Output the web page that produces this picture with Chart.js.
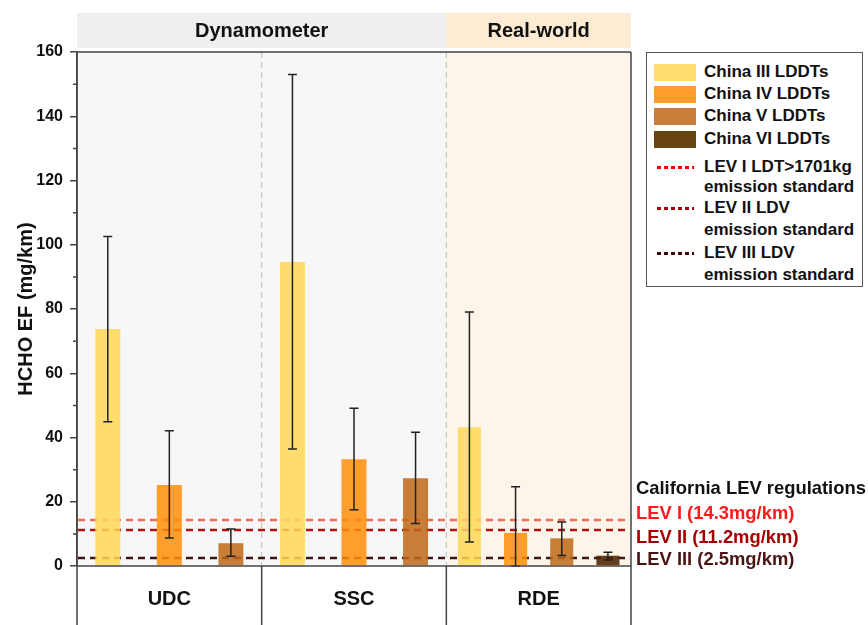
<!DOCTYPE html>
<html>
<head>
<meta charset="utf-8">
<script src="https://cdn.jsdelivr.net/npm/chart.js@4.4.1/dist/chart.umd.min.js"></script>
<style>
	body { margin: 0; background: #fff; font-family: "Liberation Sans", Arial, sans-serif; }
	#wrap { position: relative; width: 868px; height: 625px; }
	#legend { position: absolute; left: 646px; top: 52px; width: 217px; height: 235px; border: 1.5px solid #555; box-sizing: border-box; background: #fff; }
	.sw { position: absolute; left: 7px; width: 42px; height: 17px; }
	.dot { position: absolute; left: 10px; width: 37px; height: 3px; }
	.txt { position: absolute; left: 57px; height: 20px; line-height: 20px; font-size: 17px; font-weight: bold; color: #111; white-space: nowrap; }
	.note { position: absolute; left: 636px; height: 22px; line-height: 22px; font-size: 18.4px; font-weight: bold; white-space: nowrap; }
</style>
</head>
<body>
<div id="wrap">
	<canvas id="chart" width="868" height="625"></canvas>
	<div id="legend"></div>
	<div id="notes"></div>
</div>
<script>
// ---- data ----
const categories = ["UDC", "SSC", "RDE"];
const phases = ["Dynamometer", "Real-world"];
const phaseSpan = [2, 1]; // how many categories sit under each phase header

const seriesNames = ["China III LDDTs", "China IV LDDTs", "China V LDDTs", "China VI LDDTs"];
const chinaIII = [73.8, 94.6, 43.2];
const chinaIIILow = [44.9, 36.4, 7.5];
const chinaIIIHigh = [102.6, 153.0, 79.1];
const chinaIV = [25.2, 33.2, 10.3];
const chinaIVLow = [8.7, 17.5, 0];
const chinaIVHigh = [42.1, 49.1, 24.7];
const chinaV = [7.1, 27.3, 8.6];
const chinaVLow = [3.0, 13.2, 3.3];
const chinaVHigh = [11.5, 41.6, 13.7];
const chinaVI = [null, null, 3.2];
const chinaVILow = [null, null, 1.9];
const chinaVIHigh = [null, null, 4.3];

const levLegend = [["LEV I LDT>1701kg", "emission standard"], ["LEV II LDV", "emission standard"], ["LEV III LDV", "emission standard"]];
const levNotes = ["LEV I (14.3mg/km)", "LEV II (11.2mg/km)", "LEV III (2.5mg/km)"];
const levValues = [14.3, 11.2, 2.5];
const noteTitle = "California LEV regulations";

const yMin = 0, yMax = 160, yStep = 20;
const yTitle = "HCHO EF (mg/km)";

// ---- styles ----
const FONT = "'Liberation Sans', Arial, sans-serif";
const barColors = ["rgba(255,216,86,0.85)", "rgba(255,142,8,0.85)", "rgba(192,105,22,0.85)", "rgba(80,37,0,0.88)"];
const swatchColors = ["#ffdd6e", "#ff9e2c", "#c87e38", "#6a4410"];
const levLineColors = ["#f06a58", "#b01212", "#3c1616"];
const levDotColors = ["#ff0000", "#a80000", "#3c0a0a"];
const levTextColors = ["#ff1a1a", "#a50000", "#4a1414"];
const axisColor = "#444";

const values = [chinaIII, chinaIV, chinaV, chinaVI];
const lows = [chinaIIILow, chinaIVLow, chinaVLow, chinaVILow];
const highs = [chinaIIIHigh, chinaIVHigh, chinaVHigh, chinaVIHigh];

const datasets = seriesNames.map((name, i) => ({
	label: name,
	data: values[i],
	errLow: lows[i],
	errHigh: highs[i],
	backgroundColor: barColors[i],
	borderWidth: 0,
	skipNull: true,
	categoryPercentage: 1,
	barPercentage: 0.5,
	maxBarThickness: 25,
}));

// category boundaries in pixels
const edges = (chart) => {
	const x = chart.scales.x, a = chart.chartArea;
	const e = [a.left];
	for (let i = 0; i < categories.length - 1; i++) {
		e.push((x.getPixelForValue(i) + x.getPixelForValue(i + 1)) / 2);
	}
	e.push(a.right);
	return e;
};

const backdrop = {
	id: "backdrop",
	beforeDraw(chart) {
		const { ctx, chartArea: a } = chart;
		const e = edges(chart);
		const bandFill = ["#efefef", "#fdebd4"];
		const plotFill = ["#f7f7f7", "#fef5ea"];
		let c = 0;
		ctx.save();
		phases.forEach((p, i) => {
			const x0 = e[c], x1 = e[c + phaseSpan[i]];
			c += phaseSpan[i];
			ctx.fillStyle = plotFill[i];
			ctx.fillRect(x0, a.top, x1 - x0, a.bottom - a.top);
			ctx.fillStyle = bandFill[i];
			ctx.fillRect(x0, a.top - 39, x1 - x0, 35);
			ctx.fillStyle = "#111";
			ctx.font = "bold 20px " + FONT;
			ctx.textAlign = "center";
			ctx.textBaseline = "middle";
			ctx.fillText(p, (x0 + x1) / 2, a.top - 21);
		});
		// dashed separators between categories
		ctx.strokeStyle = "#c8c8c8";
		ctx.lineWidth = 1.2;
		ctx.setLineDash([6, 4]);
		for (let i = 1; i < e.length - 1; i++) {
			ctx.beginPath();
			ctx.moveTo(e[i], a.top);
			ctx.lineTo(e[i], a.bottom);
			ctx.stroke();
		}
		ctx.restore();
	},
	// LEV standard lines, under the bars
	beforeDatasetsDraw(chart) {
		const { ctx, chartArea: a, scales: { y } } = chart;
		ctx.save();
		ctx.lineWidth = 2.5;
		ctx.setLineDash([7, 5]);
		levValues.forEach((v, i) => {
			const py = y.getPixelForValue(v);
			ctx.strokeStyle = levLineColors[i];
			ctx.beginPath();
			ctx.moveTo(a.left + 1, py);
			ctx.lineTo(a.right - 4, py);
			ctx.stroke();
		});
		ctx.restore();
	},
};

const errorBars = {
	id: "errorBars",
	afterDatasetsDraw(chart) {
		const { ctx, scales: { y } } = chart;
		ctx.save();
		ctx.strokeStyle = "#222";
		ctx.lineWidth = 1.5;
		chart.data.datasets.forEach((ds, di) => {
			chart.getDatasetMeta(di).data.forEach((bar, j) => {
				if (ds.data[j] == null) return;
				const top = y.getPixelForValue(ds.errHigh[j]);
				const bot = y.getPixelForValue(ds.errLow[j]);
				ctx.beginPath();
				ctx.moveTo(bar.x, top);
				ctx.lineTo(bar.x, bot);
				ctx.moveTo(bar.x - 4.5, top);
				ctx.lineTo(bar.x + 4.5, top);
				ctx.moveTo(bar.x - 4.5, bot);
				ctx.lineTo(bar.x + 4.5, bot);
				ctx.stroke();
			});
		});
		ctx.restore();
	},
};

const frame = {
	id: "frame",
	afterDraw(chart) {
		const { ctx, chartArea: a, scales: { x, y } } = chart;
		const H = chart.height;
		const e = edges(chart);
		ctx.save();
		ctx.strokeStyle = axisColor;
		ctx.lineWidth = 1.5;
		ctx.beginPath();
		ctx.moveTo(a.left, a.top);
		ctx.lineTo(a.right, a.top);
		ctx.moveTo(a.left, a.bottom);
		ctx.lineTo(a.right, a.bottom);
		ctx.moveTo(a.left, a.top);
		ctx.lineTo(a.left, H);
		e.forEach((px) => {
			ctx.moveTo(px, a.bottom);
			ctx.lineTo(px, H);
		});
		ctx.moveTo(a.right, a.top);
		ctx.lineTo(a.right, H);
		// minor ticks
		for (let v = yMin + yStep / 2; v < yMax; v += yStep) {
			const py = y.getPixelForValue(v);
			ctx.moveTo(a.left - 4, py);
			ctx.lineTo(a.left, py);
		}
		ctx.stroke();
		ctx.fillStyle = "#111";
		ctx.font = "bold 20px " + FONT;
		ctx.textAlign = "center";
		ctx.textBaseline = "middle";
		categories.forEach((c, i) => {
			ctx.fillText(c, x.getPixelForValue(i), a.bottom + 33);
		});
		ctx.restore();
	},
};

new Chart(document.getElementById("chart"), {
	type: "bar",
	data: { labels: categories, datasets: datasets },
	options: {
		responsive: false,
		animation: false,
		layout: { padding: { left: 0, right: 237, top: 52, bottom: 59 } },
		plugins: { legend: { display: false }, tooltip: { enabled: false } },
		scales: {
			x: { display: false, offset: true },
			y: {
				min: yMin,
				max: yMax,
				ticks: { stepSize: yStep, color: "#111", padding: 7, font: { family: FONT, size: 16, weight: "bold" } },
				grid: { drawOnChartArea: false, tickLength: 7, color: axisColor, lineWidth: 1.5 },
				border: { color: axisColor, width: 1.5 },
				title: { display: true, text: yTitle, color: "#111", padding: { top: 14, bottom: 0 }, font: { family: FONT, size: 20, weight: "bold" } },
				afterFit: (s) => { s.width = 77; },
			},
		},
	},
	plugins: [backdrop, errorBars, frame],
});

// ---- legend box ----
const legend = document.getElementById("legend");
const swTops = [11, 33, 55, 78];
seriesNames.forEach((name, i) => {
	const sw = document.createElement("div");
	sw.className = "sw";
	sw.style.top = swTops[i] + "px";
	sw.style.background = swatchColors[i];
	legend.appendChild(sw);
	const t = document.createElement("div");
	t.className = "txt";
	t.style.top = (swTops[i] - 2) + "px";
	t.textContent = name;
	legend.appendChild(t);
});
const levRows = [[114, 134], [155, 177], [200, 222]];
levLegend.forEach((lines, i) => {
	const d = document.createElement("div");
	d.className = "dot";
	d.style.top = (levRows[i][0] - 1.5) + "px";
	d.style.background = `repeating-linear-gradient(to right, ${levDotColors[i]} 0 4px, transparent 4px 7px)`;
	legend.appendChild(d);
	lines.forEach((ln, k) => {
		const t = document.createElement("div");
		t.className = "txt";
		t.style.top = (levRows[i][k] - 10) + "px";
		t.textContent = ln;
		legend.appendChild(t);
	});
});

// ---- right-hand notes ----
const notes = document.getElementById("notes");
const noteY = [488, 513, 537, 559];
[noteTitle].concat(levNotes).forEach((s, i) => {
	const n = document.createElement("div");
	n.className = "note";
	n.style.top = (noteY[i] - 11) + "px";
	n.style.color = i === 0 ? "#111" : levTextColors[i - 1];
	n.textContent = s;
	notes.appendChild(n);
});
</script>
</body>
</html>
